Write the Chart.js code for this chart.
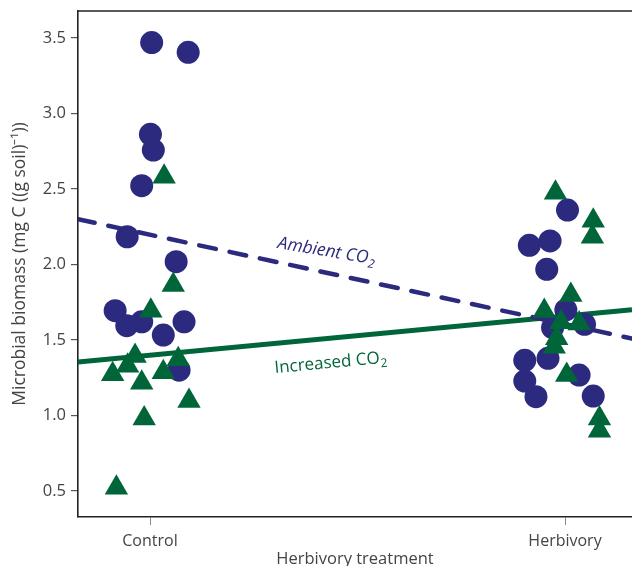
<!DOCTYPE html>
<html>
<head>
<meta charset="utf-8">
<script src="https://cdn.jsdelivr.net/npm/chart.js@4.4.1/dist/chart.umd.min.js"></script>
<style>
  html, body { margin: 0; padding: 0; background: #fff; overflow: hidden; }
  canvas { display: block; }
</style>
</head>
<body>
<canvas id="c" width="632" height="566"></canvas>
<script>
// categories on the x axis (Control = 1, Herbivory = 2)
const categories = ['Control', 'Herbivory'];
const yTicks = [0.5, 1.0, 1.5, 2.0, 2.5, 3.0, 3.5];

// Ambient CO2 (circles): jittered x and biomass
const ambientX = [1.004, 1.092, 1.001, 1.008, 0.980, 0.945, 1.063, 0.916, 0.944, 0.980, 1.032, 1.082, 1.070,
                  2.006, 1.914, 1.964, 1.956, 2.002, 1.970, 2.047, 1.903, 1.959, 2.034, 1.903, 1.930, 2.068];
const ambientY = [3.47, 3.405, 2.862, 2.758, 2.522, 2.184, 2.019, 1.694, 1.595, 1.621, 1.533, 1.621, 1.30,
                  2.361, 2.127, 2.156, 1.968, 1.699, 1.582, 1.604, 1.366, 1.379, 1.268, 1.228, 1.125, 1.129];

// Increased CO2 (triangles)
const increasedX = [1.034, 1.056, 1.002, 0.910, 0.946, 0.964, 0.980, 0.986, 0.919, 1.032, 1.068, 1.094,
                    1.977, 2.068, 2.066, 2.014, 1.950, 1.990, 2.034, 1.980, 1.974, 2.004, 2.083, 2.083];
const increasedY = [2.582, 1.864, 1.694, 1.273, 1.33, 1.394, 1.217, 0.981, 0.522, 1.286, 1.372, 1.096,
                    2.476, 2.29, 2.184, 1.798, 1.692, 1.617, 1.61, 1.511, 1.456, 1.268, 0.981, 0.90];

// fitted lines, value at left and right edge of the plot
const xRange = [0.8265, 2.1614];
const yRange = [0.328, 3.679];
const ambientFit = [2.30, 1.51];
const increasedFit = [1.354, 1.70];

const navy = '#2b2a7e';
const green = '#00663a';

const pts = (xs, ys) => xs.map((x, i) => ({ x: x, y: ys[i] }));

// labels along the lines + top frame line
const extras = {
  id: 'extras',
  afterDraw(chart) {
    const ctx = chart.ctx, a = chart.chartArea;
    const xs = chart.scales.x, ys = chart.scales.y;
    ctx.save();
    ctx.strokeStyle = '#222';
    ctx.lineWidth = 1.6;
    ctx.beginPath();
    ctx.moveTo(a.left - 0.8, a.top);
    ctx.lineTo(a.right, a.top);
    ctx.stroke();

    function label(text, color, italic, size, xv, yv, angle) {
      ctx.save();
      ctx.translate(xs.getPixelForValue(xv), ys.getPixelForValue(yv));
      ctx.rotate(angle * Math.PI / 180);
      ctx.fillStyle = color;
      ctx.textBaseline = 'alphabetic';
      ctx.font = (italic ? 'italic ' : '') + size + 'px "Open Sans"';
      ctx.fillText(text, 0, 0);
      const w = ctx.measureText(text).width;
      ctx.font = (italic ? 'italic ' : '') + Math.round(size * 0.68) + 'px "Open Sans"';
      ctx.fillText('2', w + 0.5, 4);
      ctx.restore();
    }
    label('Ambient CO', navy, true, 17.5, 1.306, 2.109, 9.5);
    label('Increased CO', green, false, 17, 1.301, 1.281, -5.3);
    ctx.restore();
  }
};

new Chart(document.getElementById('c'), {
  type: 'scatter',
  data: {
    datasets: [
      { label: 'Increased CO2', data: pts(increasedX, increasedY), pointStyle: 'triangle',
        pointRadius: 13.5, pointHoverRadius: 13.5, backgroundColor: green, borderColor: green, borderWidth: 0 },
      { label: 'Ambient CO2', data: pts(ambientX, ambientY), pointStyle: 'circle',
        pointRadius: 11.5, pointHoverRadius: 11.5, backgroundColor: navy, borderColor: navy, borderWidth: 0 },
      { label: 'Ambient fit', data: pts(xRange, ambientFit), showLine: true, pointRadius: 0,
        borderColor: navy, borderWidth: 4.5, borderDash: [17, 14], borderCapStyle: 'round' },
      { label: 'Increased fit', data: pts(xRange, increasedFit), showLine: true, pointRadius: 0,
        borderColor: green, borderWidth: 5 }
    ]
  },
  options: {
    responsive: false,
    animation: false,
    layout: { autoPadding: false, padding: { top: 11, right: 0, left: 0, bottom: 0 } },
    plugins: { legend: { display: false }, tooltip: { enabled: false } },
    scales: {
      x: {
        type: 'linear',
        min: xRange[0], max: xRange[1],
        afterBuildTicks: s => { s.ticks = categories.map((c, i) => ({ value: i + 1 })); },
        afterFit: s => { s.height = 49; s.paddingLeft = 0; s.paddingRight = 0; },
        ticks: {
          callback: v => categories[Math.round(v) - 1],
          color: '#444', font: { family: 'Open Sans', size: 16 }, padding: 7, maxRotation: 0, autoSkip: false
        },
        grid: { display: true, drawOnChartArea: false, tickLength: 8, color: '#888', lineWidth: 1 },
        border: { display: true, color: '#222', width: 1.6 },
        title: { display: true, text: 'Herbivory treatment', color: '#444',
                 font: { family: 'Open Sans', size: 16.5 }, padding: { top: 0, bottom: -3 } }
      },
      y: {
        min: yRange[0], max: yRange[1],
        afterBuildTicks: s => { s.ticks = yTicks.map(v => ({ value: v })); },
        afterFit: s => { s.width = 78; s.paddingTop = 0; s.paddingBottom = 0; },
        ticks: {
          callback: v => v.toFixed(1),
          color: '#444', font: { family: 'Open Sans', size: 16.5 }, padding: 5
        },
        grid: { display: true, drawOnChartArea: false, tickLength: 7, color: '#555', lineWidth: 1.2 },
        border: { display: true, color: '#222', width: 1.6 },
        title: { display: true, text: 'Microbial biomass (mg C ((g soil)\u207B\u00B9))', color: '#444',
                 font: { family: 'Open Sans', size: 17.5 }, padding: { top: 10, bottom: 0 } }
      }
    }
  },
  plugins: [extras]
});
</script>
</body>
</html>
